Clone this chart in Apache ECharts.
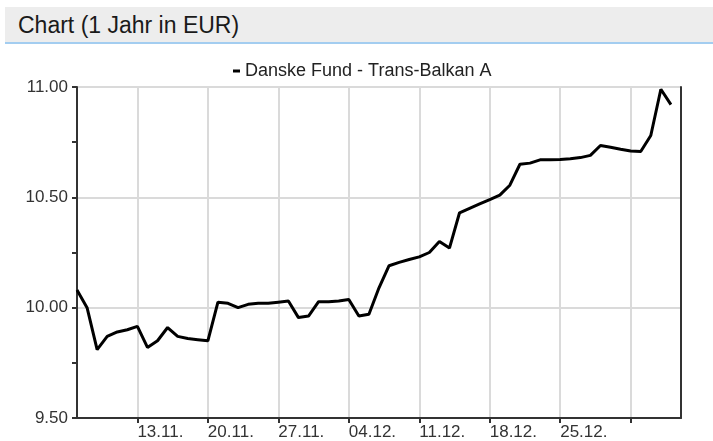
<!DOCTYPE html>
<html>
<head>
<meta charset="utf-8">
<script src="https://cdn.jsdelivr.net/npm/echarts@6/dist/echarts.min.js"></script>
<style>
    body { margin: 0; background: #fff; font-family: 'Liberation Sans', Arial, sans-serif; }
    #header {
        position: absolute; left: 5px; top: 7px; width: 708px; height: 35px;
        background: #ededed; border-bottom: 2px solid #a3cdf0;
        font-size: 23px; color: #1a1a1a; line-height: 36px; text-indent: 13px;
    }
    #chart { position: absolute; left: 0; top: 0; width: 713px; height: 441px; }
</style>
</head>
<body>
<div id="chart"></div>
<div id="header">Chart (1 Jahr in EUR)</div>
<script>
    // one category per day, 07.11. - 06.01.
    let days = [
        '07.11.', '08.11.', '09.11.', '10.11.', '11.11.', '12.11.', '13.11.', '14.11.', '15.11.', '16.11.', '17.11.', '18.11.',
        '19.11.', '20.11.', '21.11.', '22.11.', '23.11.', '24.11.', '25.11.', '26.11.', '27.11.', '28.11.', '29.11.', '30.11.',
        '01.12.', '02.12.', '03.12.', '04.12.', '05.12.', '06.12.', '07.12.', '08.12.', '09.12.', '10.12.', '11.12.', '12.12.',
        '13.12.', '14.12.', '15.12.', '16.12.', '17.12.', '18.12.', '19.12.', '20.12.', '21.12.', '22.12.', '23.12.', '24.12.',
        '25.12.', '26.12.', '27.12.', '28.12.', '29.12.', '30.12.', '31.12.',
        '01.01.', '02.01.', '03.01.', '04.01.', '05.01.', '06.01.'
    ];

    let prices = [
        10.08, 10.00, 9.81, 9.87, 9.89, 9.90, 9.915, 9.82, 9.85, 9.91, 9.87, 9.86, 9.855, 9.85,
        10.025, 10.02, 10.00, 10.015, 10.02, 10.02, 10.025, 10.03, 9.955, 9.962, 10.027, 10.027, 10.03, 10.037,
        9.962, 9.97, 10.09, 10.19, 10.205, 10.218, 10.23, 10.25, 10.30, 10.27, 10.43, 10.45, 10.47, 10.49,
        10.51, 10.555, 10.65, 10.655, 10.67, 10.67, 10.672, 10.675, 10.68, 10.69, 10.735, 10.727, 10.718,
        10.71, 10.708, 10.78, 10.99, 10.92
    ];

    let tick_days = ['13.11.', '20.11.', '27.11.', '04.12.', '11.12.', '18.12.', '25.12.', '01.01.'];
    let label_days = ['13.11.', '20.11.', '27.11.', '04.12.', '11.12.', '18.12.', '25.12.'];

    let series_name = 'Danske Fund - Trans-Balkan A';

    let is_tick = function (index, value) {
        return tick_days.indexOf(value) !== -1;
    };

    let font = 'Liberation Sans';
    let axis_color = '#333';
    let grid_color = '#dadada';

    let myChart = echarts.init(document.getElementById('chart'));
    let option = {
        animation: false,
        grid: {
            left: 77,
            right: 32,
            top: 87,
            bottom: 22
        },
        legend: {
            data: [series_name],
            left: 228,
            top: 57,
            icon: 'rect',
            itemWidth: 7,
            itemHeight: 3,
            itemGap: 5,
            textStyle: {fontFamily: font, fontSize: 18, color: '#222'}
        },
        xAxis: {
            type: 'category',
            data: days,
            boundaryGap: false,
            axisLine: {lineStyle: {color: axis_color, width: 2}},
            axisTick: {interval: is_tick, length: 5, lineStyle: {color: axis_color, width: 2}},
            axisLabel: {
                interval: is_tick,
                align: 'left',
                margin: 6,
                fontFamily: font,
                fontSize: 17,
                color: axis_color,
                formatter: function (value) {
                    return label_days.indexOf(value) !== -1 ? value : '';
                }
            },
            splitLine: {show: true, interval: is_tick, lineStyle: {color: grid_color, width: 2}}
        },
        yAxis: [
            {
                type: 'value',
                position: 'left',
                min: 9.5,
                max: 11,
                interval: 0.5,
                axisLine: {show: true, lineStyle: {color: axis_color, width: 2}},
                axisTick: {show: true, length: 5, lineStyle: {color: axis_color, width: 2}},
                minorTick: {show: true, splitNumber: 2, length: 5, lineStyle: {color: axis_color, width: 2}},
                axisLabel: {
                    margin: 9,
                    fontFamily: font,
                    fontSize: 17,
                    color: axis_color,
                    formatter: function (v) {
                        return v.toFixed(2);
                    }
                },
                splitLine: {lineStyle: {color: grid_color, width: 2}}
            },
            {
                type: 'value',
                position: 'right',
                min: 9.5,
                max: 11,
                interval: 0.5,
                axisLine: {show: true, lineStyle: {color: axis_color, width: 2}},
                axisTick: {show: false},
                axisLabel: {show: false},
                splitLine: {show: false}
            }
        ],
        series: [{
            name: series_name,
            type: 'line',
            data: prices,
            symbol: 'none',
            color: '#000',
            lineStyle: {color: '#000', width: 3}
        }]
    };

    myChart.setOption(option);
</script>
</body>
</html>
